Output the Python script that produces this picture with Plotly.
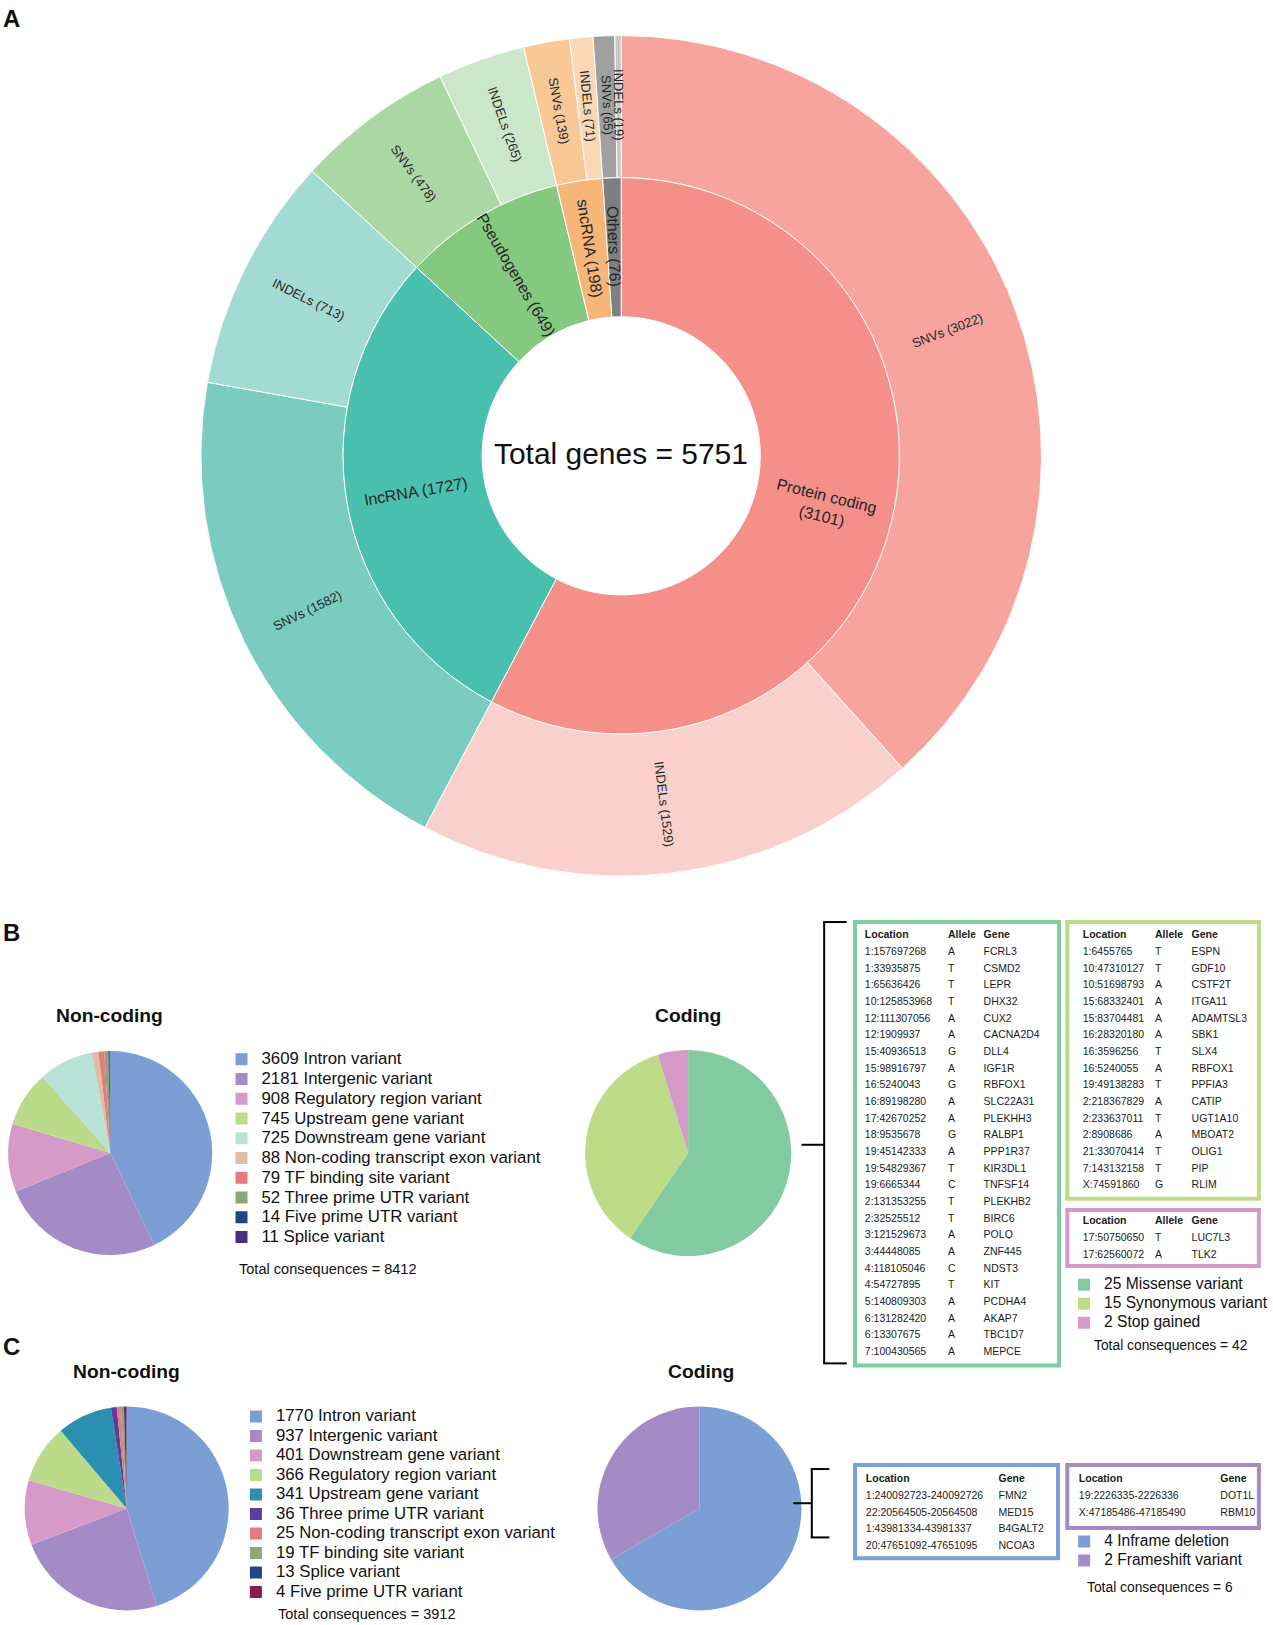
import math
import plotly.graph_objects as go

# ---------------- data ----------------
gene_types = ["Protein coding", "lncRNA", "Pseudogenes", "sncRNA", "Others"]
gene_counts = [3101, 1727, 649, 198, 76]
snv_counts = [3022, 1582, 478, 139, 65]
indel_counts = [1529, 713, 265, 71, 19]
inner_colors = ["#F58F89", "#49C0AD", "#85C981", "#F7B578", "#7F7F7F"]
snv_colors = ["#F7A49F", "#7ACBC0", "#ABD7A5", "#F8C897", "#A0A0A0"]
indel_colors = ["#F9D0CC", "#A3DAD3", "#CCE6C9", "#FAD8B5", "#C8C8C8"]

b_nc_labels = ["Intron variant", "Intergenic variant", "Regulatory region variant",
               "Upstream gene variant", "Downstream gene variant",
               "Non-coding transcript exon variant", "TF binding site variant",
               "Three prime UTR variant", "Five prime UTR variant", "Splice variant"]
b_nc_values = [3609, 2181, 908, 745, 725, 88, 79, 52, 14, 11]
b_nc_colors = ["#7B9FD4", "#A48BC6", "#D59AC8", "#BCDB8A", "#B8E2D6",
               "#DCBFA8", "#E57A80", "#8CA870", "#1F4788", "#4A2C82"]

b_c_labels = ["Missense variant", "Synonymous variant", "Stop gained"]
b_c_values = [25, 15, 2]
b_c_colors = ["#82CBA1", "#BEDB87", "#D59AC8"]

c_nc_labels = ["Intron variant", "Intergenic variant", "Downstream gene variant",
               "Regulatory region variant", "Upstream gene variant",
               "Three prime UTR variant", "Non-coding transcript exon variant",
               "TF binding site variant", "Splice variant", "Five prime UTR variant"]
c_nc_values = [1770, 937, 401, 366, 341, 36, 25, 19, 13, 4]
c_nc_colors = ["#7B9FD4", "#A48BC6", "#D59AC8", "#BCDB8A", "#2A8FB0",
               "#5E3E9A", "#E57A80", "#8CA870", "#1F4788", "#8B1A4A"]

c_c_labels = ["Inframe deletion", "Frameshift variant"]
c_c_values = [4, 2]
c_c_colors = ["#7B9FD4", "#A48BC6"]

miss_loc = ["1:157697268", "1:33935875", "1:65636426", "10:125853968", "12:111307056",
            "12:1909937", "15:40936513", "15:98916797", "16:5240043", "16:89198280",
            "17:42670252", "18:9535678", "19:45142333", "19:54829367", "19:6665344",
            "2:131353255", "2:32525512", "3:121529673", "3:44448085", "4:118105046",
            "4:54727895", "5:140809303", "6:131282420", "6:13307675", "7:100430565"]
miss_allele = ["A", "T", "T", "T", "A", "A", "G", "A", "G", "A", "A", "G", "A", "T", "C",
               "T", "T", "A", "A", "C", "T", "A", "A", "A", "A"]
miss_gene = ["FCRL3", "CSMD2", "LEPR", "DHX32", "CUX2", "CACNA2D4", "DLL4", "IGF1R",
             "RBFOX1", "SLC22A31", "PLEKHH3", "RALBP1", "PPP1R37", "KIR3DL1", "TNFSF14",
             "PLEKHB2", "BIRC6", "POLQ", "ZNF445", "NDST3", "KIT", "PCDHA4", "AKAP7",
             "TBC1D7", "MEPCE"]

syn_loc = ["1:6455765", "10:47310127", "10:51698793", "15:68332401", "15:83704481",
           "16:28320180", "16:3596256", "16:5240055", "19:49138283", "2:218367829",
           "2:233637011", "2:8908686", "21:33070414", "7:143132158", "X:74591860"]
syn_allele = ["T", "T", "A", "A", "A", "A", "T", "A", "T", "A", "T", "A", "T", "T", "G"]
syn_gene = ["ESPN", "GDF10", "CSTF2T", "ITGA11", "ADAMTSL3", "SBK1", "SLX4", "RBFOX1",
            "PPFIA3", "CATIP", "UGT1A10", "MBOAT2", "OLIG1", "PIP", "RLIM"]

stop_loc = ["17:50750650", "17:62560072"]
stop_allele = ["T", "A"]
stop_gene = ["LUC7L3", "TLK2"]

infr_loc = ["1:240092723-240092726", "22:20564505-20564508", "1:43981334-43981337",
            "20:47651092-47651095"]
infr_gene = ["FMN2", "MED15", "B4GALT2", "NCOA3"]

fs_loc = ["19:2226335-2226336", "X:47185486-47185490"]
fs_gene = ["DOT1L", "RBM10"]

# ---------------- geometry helpers ----------------
W, H = 1273, 1625
SX, SY = 1.04, 1.036
FONT = "Liberation Sans, Arial, sans-serif"


def PX(x):
    return x * SX / W


def PY(y):
    return 1 - y * SY / H


def AX(x):
    return min(1.0, max(0.0, x / W))


def AY(y):
    return min(1.0, max(0.0, 1 - y / H))


def dom(cx, cy, r):
    return dict(x=[max(0, PX(cx - r)), min(1, PX(cx + r))],
                y=[max(0, PY(cy + r)), min(1, PY(cy - r))])


fig = go.Figure()
ann = []

# ---------------- Panel A: two-ring donut ----------------
outer_labels, outer_values, outer_colors, outer_text = [], [], [], []
for i in range(len(gene_types)):
    outer_labels += [gene_types[i] + " SNVs", gene_types[i] + " INDELs"]
    outer_values += [snv_counts[i], indel_counts[i]]
    outer_colors += [snv_colors[i], indel_colors[i]]
    outer_text += ["SNVs (%d)" % snv_counts[i], "INDELs (%d)" % indel_counts[i]]

inner_values = [snv_counts[i] + indel_counts[i] for i in range(len(gene_types))]
inner_text = []
for n, c in zip(gene_types, gene_counts):
    if n == "Protein coding":
        inner_text.append("%s<br>(%d)" % (n, c))
    else:
        inner_text.append("%s (%d)" % (n, c))

CX, CY = 603, 440
R0, R1, R2 = 135, 270, 408
fig.add_trace(go.Pie(
    labels=outer_labels, values=outer_values, textinfo="none",
    marker=dict(colors=outer_colors, line=dict(color="white", width=1)),
    hole=R1 / R2, sort=False, direction="clockwise", rotation=0,
    domain=dom(CX, CY, R2), showlegend=False, hoverinfo="label+value",
))
fig.add_trace(go.Pie(
    labels=gene_types, values=inner_values, textinfo="none",
    marker=dict(colors=inner_colors, line=dict(color="white", width=1)),
    hole=R0 / R1, sort=False, direction="clockwise", rotation=0,
    domain=dom(CX, CY, R1), showlegend=False, hoverinfo="label+value",
))


def radial_labels(values, texts, rmid, size):
    """Place each ring label at the middle of its slice, oriented radially."""
    tot = float(sum(values))
    cum = 0.0
    for v, t in zip(values, texts):
        th = (cum + v / 2.0) / tot * 360.0
        cum += v
        rad = math.radians(th)
        xpx = CX + rmid * math.sin(rad)
        ypx = CY - rmid * math.cos(rad)
        ang = th - 90 if th < 180 else th - 270
        ann.append(dict(x=PX(xpx), y=PY(ypx), xref="paper", yref="paper",
                        showarrow=False, text=t, textangle=ang,
                        xanchor="center", yanchor="middle",
                        font=dict(family=FONT, size=size, color="#262626")))


radial_labels(outer_values, outer_text, (R1 + R2) / 2.0, 13)
radial_labels(inner_values, inner_text, (R0 + R1) / 2.0, 16)

# ---------------- small pies with legends ----------------
def small_pie(labels, values, colors, cx, cy, r, legend, fs):
    fig.add_trace(go.Pie(
        labels=['<span style="font-size:%.1fpx">%d %s</span>' % (fs, v, l)
                for v, l in zip(values, labels)],
        values=values,
        marker=dict(colors=colors, line=dict(width=0)),
        sort=False, direction="clockwise", rotation=0, textinfo="none",
        domain=dom(cx, cy, r), legend=legend, hoverinfo="value",
    ))


small_pie(b_nc_labels, b_nc_values, b_nc_colors, 107, 1113, 99, "legend", 16.8)
small_pie(b_c_labels, b_c_values, b_c_colors, 668, 1113, 100, "legend2", 15.6)
small_pie(c_nc_labels, c_nc_values, c_nc_colors, 123, 1456, 99, "legend3", 16.8)
small_pie(c_c_labels, c_c_values, c_c_colors, 679, 1456, 99, "legend4", 15.6)

# ---------------- tables (positions in output pixels) ----------------
ROW = 16.67
TFONT = dict(family=FONT, size=10.5, color="#1a1a1a")
HFONT = dict(family=FONT, size=10.5, color="#1a1a1a", weight="bold")


def table(cols, headers, x0, widths, y_head):
    nrows = len(cols[0]) + 1
    x1 = x0 + sum(widths)
    top = y_head - 13.5
    fig.add_trace(go.Table(
        domain=dict(x=[AX(x0), AX(x1)], y=[AY(top + (nrows + 4) * ROW), AY(top)]),
        columnwidth=widths,
        header=dict(values=headers, height=ROW, fill_color="white",
                    line=dict(width=0, color="white"), align="left", font=HFONT),
        cells=dict(values=cols, fill_color="white", line=dict(width=0, color="white"),
                   align="left", font=TFONT, height=ROW),
    ))


table([miss_loc, miss_allele, miss_gene], ["Location", "Allele", "Gene"], 865, [84, 36, 76], 936)
table([syn_loc, syn_allele, syn_gene], ["Location", "Allele", "Gene"], 1085, [73, 37, 74], 936)
table([stop_loc, stop_allele, stop_gene], ["Location", "Allele", "Gene"], 1085, [73, 37, 74], 1222)
table([infr_loc, infr_gene], ["Location", "Gene"], 866, [134, 62], 1480)
table([fs_loc, fs_gene], ["Location", "Gene"], 1081, [143, 46], 1480)

# ---------------- shapes ----------------
shapes = []


def line(x0, y0, x1, y1, w=2, c="black"):
    shapes.append(dict(type="line", xref="paper", yref="paper", x0=PX(x0), y0=PY(y0),
                       x1=PX(x1), y1=PY(y1), line=dict(color=c, width=w)))


def rect(x0, y0, x1, y1, c):
    shapes.append(dict(type="rect", xref="paper", yref="paper", x0=PX(x0), y0=PY(y1),
                       x1=min(PX(x1), 0.9985), y1=PY(y0), line=dict(color=c, width=4)))


# bracket B
line(800, 890, 800, 1316)
line(799, 890, 822, 890)
line(799, 1316, 822, 1316)
line(778, 1105, 800, 1105)
# bracket C
line(788, 1418, 788, 1484)
line(787, 1418, 805, 1418)
line(787, 1484, 805, 1484)
line(770, 1451, 788, 1451)

rect(830, 890, 1028, 1318, "#82CBA1")
rect(1036, 890, 1222, 1157, "#BEDB87")
rect(1036, 1168, 1222, 1222, "#D59AC8")
rect(830, 1414, 1027, 1504, "#7B9FD4")
rect(1036, 1414, 1222, 1475, "#A48BC6")

# ---------------- annotations ----------------
def text(x, y, s, size, bold=False, xanchor="center"):
    ann.append(dict(x=PX(x), y=PY(y), xref="paper", yref="paper", showarrow=False,
                    text=("<b>%s</b>" % s) if bold else s, xanchor=xanchor, yanchor="middle",
                    font=dict(family=FONT, size=size * 1.04, color="#111111")))


text(1, 18, "A", 23, True, "left")
text(1, 900, "B", 23, True, "left")
text(1, 1300, "C", 23, True, "left")
text(CX, 438, "Total genes = %d" % sum(gene_counts), 28.8)
text(106, 980, "Non-coding", 18.5, True)
text(668, 980, "Coding", 18.5, True)
text(123, 1324, "Non-coding", 18.5, True)
text(680, 1324, "Coding", 18.5, True)
text(230, 1225, "Total consequences = %d" % sum(b_nc_values), 14, False, "left")
text(1060, 1298, "Total consequences = %d" % sum(b_c_values), 13.3, False, "left")
text(268, 1558, "Total consequences = %d" % sum(c_nc_values), 14, False, "left")
text(1053, 1532, "Total consequences = %d" % sum(c_c_values), 13.3, False, "left")


def leg(x, y, fs):
    return dict(x=PX(x), y=PY(y), xanchor="left", yanchor="top",
                font=dict(family=FONT, size=fs, color="#111111"),
                bgcolor="rgba(0,0,0,0)", traceorder="normal", itemclick=False,
                itemdoubleclick=False, tracegroupgap=0)


fig.update_layout(
    width=W, height=H, margin=dict(l=0, r=0, t=0, b=0),
    paper_bgcolor="white", plot_bgcolor="white",
    shapes=shapes, annotations=ann,
    legend=leg(215, 1008, 12.9), legend2=leg(1033, 1226, 12.2),
    legend3=leg(229, 1353, 12.7), legend4=leg(1033, 1474, 12.2),
    font=dict(family=FONT),
)

fig.write_html("out.html", config={"displayModeBar": False},
               post_script="document.body.style.margin='0';document.body.style.overflow='hidden';")
